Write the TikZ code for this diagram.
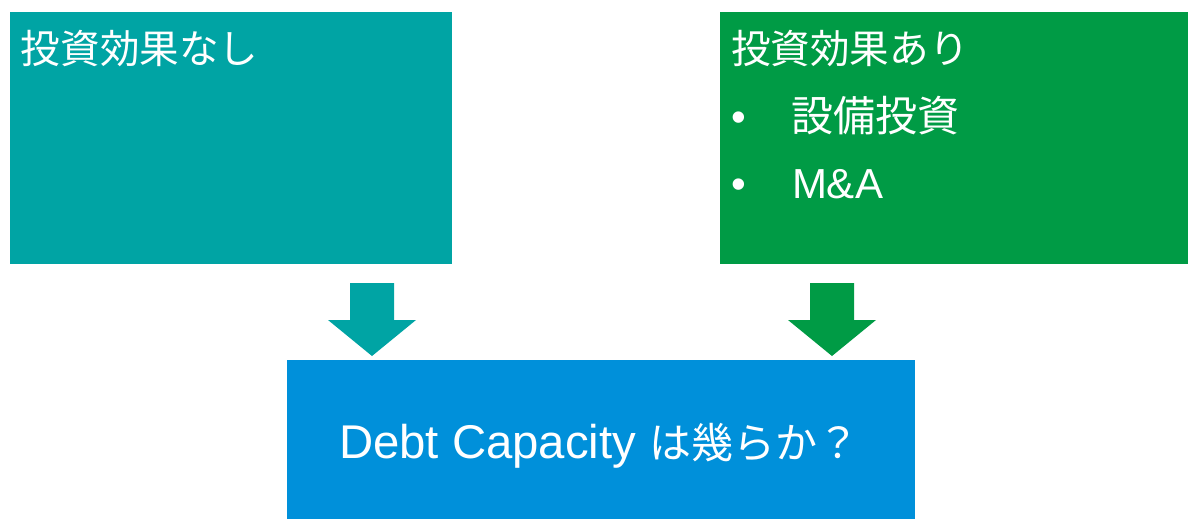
\documentclass[tikz,border=0pt]{standalone}
\usepackage{fontspec}
\setmainfont{Liberation Sans}
\newfontfamily\jp{Noto Sans CJK JP}
\definecolor{tealbox}{HTML}{00A4A4}
\definecolor{greenbox}{HTML}{009B45}
\definecolor{bluebox}{HTML}{0090DA}
\tikzset{
  lbl/.style={inner sep=0pt, outer sep=0pt, text=white, font=\fontsize{31.5pt}{38pt}\selectfont},
  title/.style={lbl, font=\fontsize{29.7pt}{36pt}\selectfont\jp},
}
\begin{document}
\begin{tikzpicture}[x=0.75pt,y=-0.75pt]
\useasboundingbox (0,0) rectangle (1188,519);
% boxes
\fill[tealbox] (10,12) rectangle (452,264);
\fill[greenbox] (720,12) rectangle (1188,264);
\fill[bluebox] (287,360) rectangle (915,519);
% block arrows
\fill[tealbox] (350,283) -- (394,283) -- (394,320) -- (416,320) -- (372,356) -- (328,320) -- (350,320) -- cycle;
\fill[greenbox] (810,283) -- (854,283) -- (854,320) -- (876,320) -- (832,356) -- (788,320) -- (810,320) -- cycle;
% texts
\node[title, anchor=base west] (t1) at (21,63.5) {投資効果なし};
\node[title, anchor=base west] (t2) at (731,63.5) {投資効果あり};
\node[lbl, anchor=base] (b1) at (739,131) {•};
\node[lbl, anchor=base west] (t3) at (791,131) {\jp 設備投資};
\node[lbl, anchor=base] (b2) at (739,198) {•};
\node[lbl, anchor=base west] (t4) at (792,198) {M\&A};
\node[lbl, anchor=base west, font=\fontsize{35.5pt}{42pt}\selectfont] (t5) at (339,458) {Debt Capacity {\jp\fontsize{31.5pt}{38pt}\selectfont は幾らか？}};
\end{tikzpicture}
\end{document}
